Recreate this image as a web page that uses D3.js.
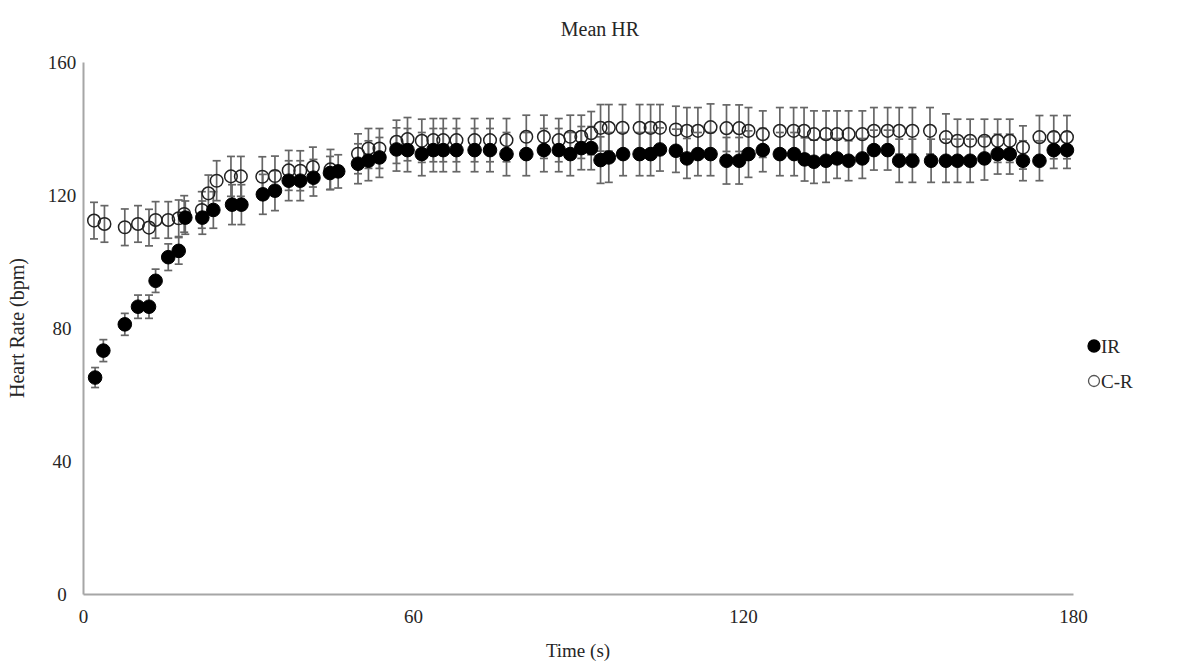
<!DOCTYPE html>
<html>
<head>
<meta charset="utf-8">
<script src="https://cdn.jsdelivr.net/npm/d3@7"></script>
<style>
  html, body { margin: 0; padding: 0; background: #fff; }
  svg text { font-family: "Liberation Serif", "Times New Roman", serif; fill: #262626; }
</style>
</head>
<body>
<svg id="chart" width="1180" height="666"></svg>
<script>
// Mean heart rate (bpm) over time (s), two conditions, with ± SD error bars.
const timeIR = [2.2, 3.7, 7.6, 10.0, 12.0, 13.2, 15.5, 17.4, 18.6, 21.7, 23.7, 27.1, 28.8, 32.7, 34.9,
  37.4, 39.5, 41.9, 44.9, 46.4, 50.0, 51.9, 53.9, 57.0, 59.0, 61.6, 63.7, 65.5, 67.9, 71.2,
  74.0, 77.0, 80.6, 83.8, 86.5, 88.6, 90.6, 92.4, 94.1, 95.6, 98.2, 101.2, 103.2, 104.9, 107.8,
  109.8, 111.8, 114.1, 117.0, 119.3, 121.0, 123.6, 126.7, 129.3, 131.2, 132.9, 135.1, 137.1, 139.2, 141.7,
  143.8, 146.3, 148.4, 150.8, 154.2, 156.9, 159.0, 161.3, 163.9, 166.3, 168.5, 170.9, 173.9, 176.5, 178.9];
const meanIR = [65.1, 73.2, 81.1, 86.4, 86.4, 94.2, 101.3, 103.2, 113.2, 113.2, 115.5, 117.1, 117.1, 120.2, 121.3,
  124.3, 124.3, 125.2, 126.6, 127.1, 129.4, 130.3, 131.3, 133.7, 133.5, 132.3, 133.5, 133.5, 133.5, 133.5,
  133.5, 132.3, 132.3, 133.5, 133.5, 132.3, 134.1, 134.1, 130.5, 131.3, 132.3, 132.3, 132.3, 133.7, 133.3,
  131.0, 132.3, 132.3, 130.3, 130.3, 132.3, 133.5, 132.3, 132.3, 130.7, 130.0, 130.3, 131.0, 130.3, 131.0,
  133.5, 133.5, 130.3, 130.3, 130.3, 130.3, 130.3, 130.3, 131.0, 132.3, 132.3, 130.3, 130.3, 133.5, 133.5];
const sdIR = [3.0, 3.3, 3.3, 3.5, 3.5, 3.5, 4.0, 4.0, 5.0, 5.0, 5.5, 6.0, 6.0, 6.0, 6.0,
  6.0, 6.0, 5.5, 5.0, 5.0, 6.0, 6.0, 6.0, 6.5, 6.5, 6.5, 6.5, 6.5, 6.5, 6.5,
  6.5, 6.5, 6.5, 6.5, 6.5, 6.5, 6.5, 6.5, 7.0, 7.5, 6.5, 6.5, 6.5, 6.5, 6.5,
  6.0, 6.5, 6.5, 7.0, 7.0, 7.0, 6.5, 6.5, 6.5, 6.5, 6.5, 6.5, 6.0, 6.0, 6.0,
  6.0, 6.0, 6.5, 6.5, 6.5, 6.5, 6.5, 6.5, 6.5, 6.0, 6.0, 6.0, 6.0, 5.5, 5.5];

const timeCR = [2.0, 3.9, 7.6, 10.0, 12.0, 13.2, 15.5, 17.4, 18.4, 21.6, 22.8, 24.3, 26.9, 28.7, 32.6,
  34.9, 37.4, 39.5, 41.8, 45.0, 50.0, 51.9, 53.9, 57.0, 59.0, 61.6, 63.7, 65.5, 67.9, 71.2,
  74.0, 77.0, 80.6, 83.8, 86.5, 88.6, 90.6, 92.4, 94.1, 95.6, 98.1, 101.2, 103.2, 104.9, 107.8,
  109.8, 111.8, 114.1, 117.0, 119.3, 121.0, 123.6, 126.7, 129.2, 131.1, 132.9, 135.1, 137.1, 139.2, 141.7,
  143.8, 146.3, 148.4, 150.8, 154.0, 156.9, 159.0, 161.3, 163.9, 166.3, 168.5, 170.9, 173.9, 176.5, 178.9];
const meanCR = [112.3, 111.3, 110.3, 111.3, 110.2, 112.5, 112.5, 113.0, 114.3, 115.5, 120.5, 124.3, 125.6, 125.6, 125.5,
  125.7, 127.4, 127.3, 128.4, 127.7, 132.4, 134.0, 134.0, 136.0, 136.8, 136.3, 136.5, 136.5, 136.5, 136.5,
  136.5, 136.5, 137.5, 137.5, 136.5, 137.5, 137.5, 138.6, 140.2, 140.2, 140.2, 140.2, 140.2, 140.2, 139.7,
  139.3, 139.3, 140.4, 140.1, 140.1, 139.3, 138.3, 139.3, 139.3, 139.3, 138.3, 138.3, 138.3, 138.3, 138.3,
  139.3, 139.3, 139.3, 139.3, 139.3, 137.4, 136.3, 136.3, 136.3, 136.3, 136.3, 134.3, 137.4, 137.4, 137.4];
const sdCR = [5.5, 5.5, 5.5, 5.5, 5.5, 5.5, 5.5, 5.5, 5.5, 5.5, 5.5, 6.0, 6.0, 6.0, 6.0,
  6.0, 6.0, 6.0, 6.0, 6.0, 6.0, 6.0, 6.0, 6.5, 6.5, 6.5, 6.5, 6.5, 6.5, 6.5,
  6.5, 6.5, 6.5, 6.5, 6.5, 6.5, 6.5, 6.5, 7.0, 7.0, 7.0, 7.0, 7.0, 7.0, 7.0,
  7.0, 7.0, 7.0, 7.0, 7.0, 7.0, 7.0, 7.0, 7.0, 7.0, 7.0, 7.0, 7.0, 7.0, 7.0,
  7.0, 7.0, 7.0, 7.0, 7.0, 7.0, 6.5, 6.5, 6.5, 6.5, 6.5, 6.5, 6.5, 6.5, 6.5];

const xTicks = [0, 60, 120, 180];
const yTicks = [0, 40, 80, 120, 160];
const seriesNames = ["IR", "C-R"];

const svg = d3.select("#chart");
const plot = { left: 83, right: 1073, top: 62, bottom: 594 };

const x = d3.scaleLinear().domain([0, 180]).range([plot.left, plot.right]);
const y = d3.scaleLinear().domain([0, 160]).range([plot.bottom, plot.top]);

// Axis lines only (no tick marks), labels set in a serif face.
const xAxis = d3.axisBottom(x).tickValues(xTicks).tickSize(0).tickPadding(16);
const yAxis = d3.axisLeft(y).tickValues(yTicks).tickSize(0).tickPadding(21);

const gx = svg.append("g").attr("transform", `translate(0,${plot.bottom})`).call(xAxis);
const gy = svg.append("g").attr("transform", `translate(${plot.left},0)`).call(yAxis);
[gx, gy].forEach(g => {
  g.select(".domain").attr("stroke", "#a6a6a6").attr("stroke-width", 2);
  g.selectAll(".tick text").attr("font-size", 19).attr("font-family", "Liberation Serif").attr("fill", "#262626");
});
// y labels are centred in their column
gy.selectAll(".tick text").attr("dy", "0.35em").attr("text-anchor", "middle").attr("x", 62 - plot.left);

// Titles
svg.append("text").attr("x", 600).attr("y", 36).attr("text-anchor", "middle")
  .attr("font-size", 20).text("Mean HR");
svg.append("text").attr("x", 578).attr("y", 657).attr("text-anchor", "middle")
  .attr("font-size", 19).text("Time (s)");
svg.append("text").attr("transform", "translate(24,328) rotate(-90)").attr("text-anchor", "middle")
  .attr("font-size", 20).text("Heart Rate (bpm)");

const IR = timeIR.map((t, i) => ({ t, m: meanIR[i], sd: sdIR[i] }));
const CR = timeCR.map((t, i) => ({ t, m: meanCR[i], sd: sdCR[i] }));

function errorBars(data, cls) {
  const g = svg.append("g").attr("class", cls)
    .attr("stroke", "#666").attr("stroke-width", 1.7).attr("fill", "none");
  const cap = 4;
  data.forEach(d => {
    const xp = x(d.t), y1 = y(d.m + d.sd), y2 = y(d.m - d.sd);
    g.append("line").attr("x1", xp).attr("x2", xp).attr("y1", y1).attr("y2", y2);
    g.append("line").attr("x1", xp - cap).attr("x2", xp + cap).attr("y1", y1).attr("y2", y1);
    g.append("line").attr("x1", xp - cap).attr("x2", xp + cap).attr("y1", y2).attr("y2", y2);
  });
}

errorBars(CR, "err-cr");
errorBars(IR, "err-ir");

// C-R: hollow markers
svg.append("g").selectAll("circle").data(CR).join("circle")
  .attr("cx", d => x(d.t)).attr("cy", d => y(d.m)).attr("r", 6.3)
  .attr("fill", "none").attr("stroke", "#222").attr("stroke-width", 1.5);

// IR: filled markers
svg.append("g").selectAll("circle").data(IR).join("circle")
  .attr("cx", d => x(d.t)).attr("cy", d => y(d.m)).attr("r", 6.8)
  .attr("fill", "#000").attr("stroke", "#000").attr("stroke-width", 1);

// Legend
const legend = svg.append("g");
const legendRows = [{ name: seriesNames[0], filled: true, yy: 346 }, { name: seriesNames[1], filled: false, yy: 381 }];
legendRows.forEach(r => {
  legend.append("circle").attr("cx", 1094).attr("cy", r.yy).attr("r", r.filled ? 6 : 5.5)
    .attr("fill", r.filled ? "#000" : "none").attr("stroke", r.filled ? "#000" : "#555").attr("stroke-width", 1.3);
  legend.append("text").attr("x", 1101).attr("y", r.yy).attr("dy", "0.35em")
    .attr("font-size", 19).text(r.name);
});
</script>
</body>
</html>
